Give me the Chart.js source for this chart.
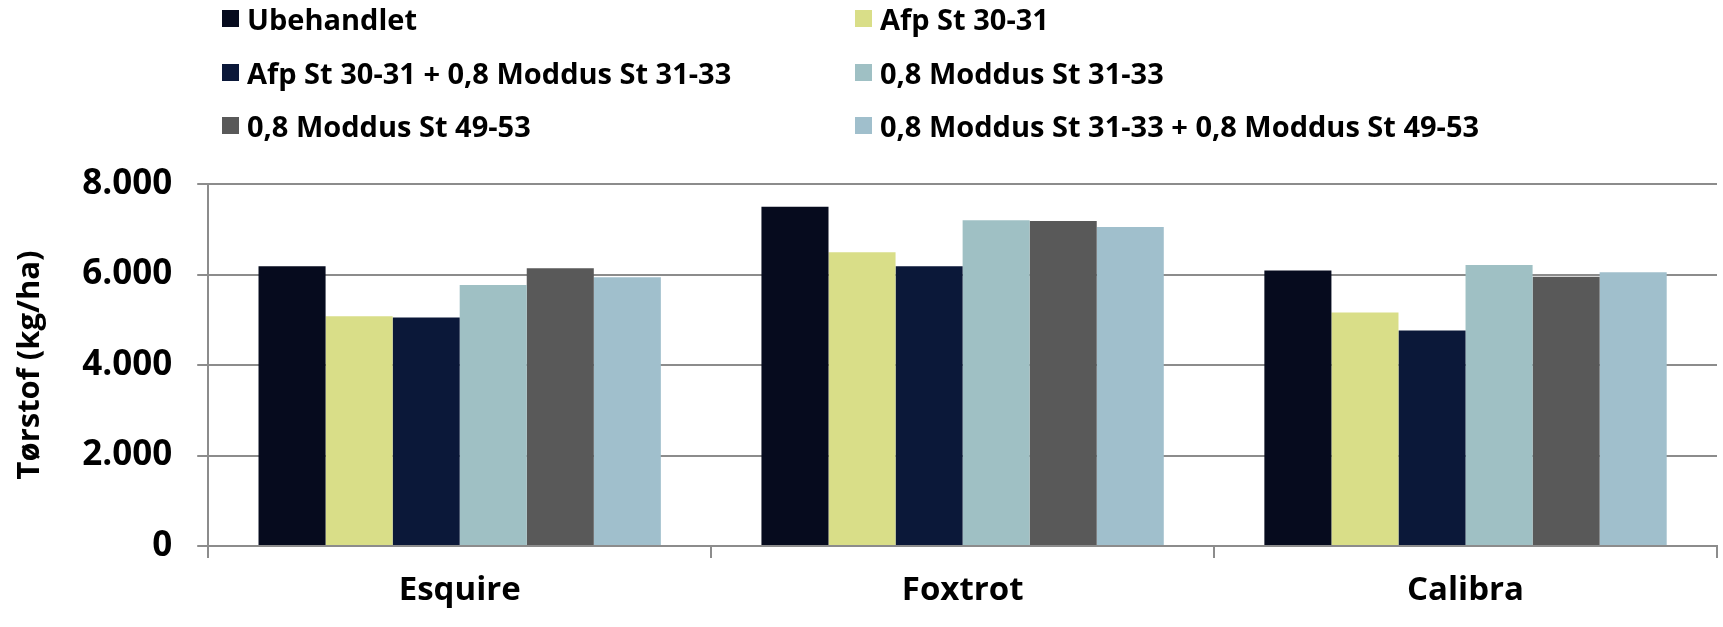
<!DOCTYPE html>
<html>
<head>
<meta charset="utf-8">
<script src="https://cdn.jsdelivr.net/npm/chart.js@4/dist/chart.umd.min.js"></script>
<style>
  body { margin: 0; background: #fff; }
  #wrap { position: relative; width: 1723px; height: 627px; }
  #legend { position: absolute; left: 0; top: 0; width: 1723px; height: 160px; font-family: "Open Sans", sans-serif; font-weight: bold; font-size: 29px; color: #000; }
  .item { position: absolute; display: flex; align-items: center; height: 36px; white-space: nowrap; }
  .box { width: 17px; height: 17px; margin-right: 8px; }
</style>
</head>
<body>
<div id="wrap">
  <canvas id="chart"></canvas>
  <div id="legend"></div>
</div>
<script>
// Data
const categories = ['Esquire', 'Foxtrot', 'Calibra'];
const seriesNames = [
    'Ubehandlet',
    'Afp St 30-31',
    'Afp St 30-31 + 0,8 Moddus St 31-33',
    '0,8 Moddus St 31-33',
    '0,8 Moddus St 49-53',
    '0,8 Moddus St 31-33 + 0,8 Moddus St 49-53'
];
const ubehandlet = [6180, 7500, 6090];
const afp = [5080, 6490, 5160];
const afpModdus = [5050, 6180, 4760];
const moddus3133 = [5770, 7200, 6210];
const moddus4953 = [6140, 7180, 5950];
const moddusBoth = [5940, 7050, 6050];
const yTicks = [0, 2000, 4000, 6000, 8000];
const colors = ['#060b1e', '#d9de88', '#0b1839', '#9fc0c4', '#595959', '#a0bfcc'];

const seriesValues = [ubehandlet, afp, afpModdus, moddus3133, moddus4953, moddusBoth];

const datasets = seriesNames.map((name, i) => ({
    label: name,
    data: seriesValues[i],
    backgroundColor: colors[i],
    borderWidth: 0,
    categoryPercentage: 0.8,
    barPercentage: 1.0
}));

const fmt = v => v === 0 ? '0' : v.toLocaleString('da-DK');
const font = 'Open Sans';

const ctx = document.getElementById('chart').getContext('2d');
const chart = new Chart(ctx, {
    type: 'bar',
    data: { labels: categories, datasets: datasets },
    options: {
        responsive: true,
        maintainAspectRatio: false,
        animation: false,
        layout: { padding: { top: 184, left: 10, right: 6, bottom: 4 } },
        plugins: { legend: { display: false }, tooltip: { enabled: false } },
        scales: {
            x: {
                grid: { display: true, drawOnChartArea: false, drawTicks: true, tickLength: 12, color: '#8c8c8c', lineWidth: 2, offset: true },
                border: { display: true, color: '#8c8c8c', width: 2 },
                ticks: { color: '#000', padding: 16, font: { family: font, weight: 'bold', size: 33, lineHeight: 1.0 } }
            },
            y: {
                min: 0,
                max: 8000,
                afterBuildTicks: axis => { axis.ticks = yTicks.map(v => ({ value: v })); },
                grid: { color: '#8c8c8c', lineWidth: 2, tickLength: 11 },
                border: { display: true, color: '#8c8c8c', width: 2 },
                ticks: { color: '#000', padding: 25, callback: v => fmt(v), font: { family: font, weight: 'bold', size: 35 } },
                title: { display: true, text: 'Tørstof (kg/ha)', color: '#000', font: { family: font, weight: 'bold', size: 31, lineHeight: 1.2 }, padding: { top: 2, bottom: 8 } }
            }
        }
    }
});

// Two-column legend built from the datasets
const legendPos = [[222, 18], [855, 18], [222, 72], [855, 72], [222, 125], [855, 125]];
const legend = document.getElementById('legend');
chart.data.datasets.forEach((ds, i) => {
    const item = document.createElement('div');
    item.className = 'item';
    item.style.left = legendPos[i][0] + 'px';
    item.style.top = (legendPos[i][1] - 18) + 'px';
    item.innerHTML = `<span class="box" style="background:${ds.backgroundColor}"></span><span>${ds.label}</span>`;
    legend.appendChild(item);
});
</script>
</body>
</html>
